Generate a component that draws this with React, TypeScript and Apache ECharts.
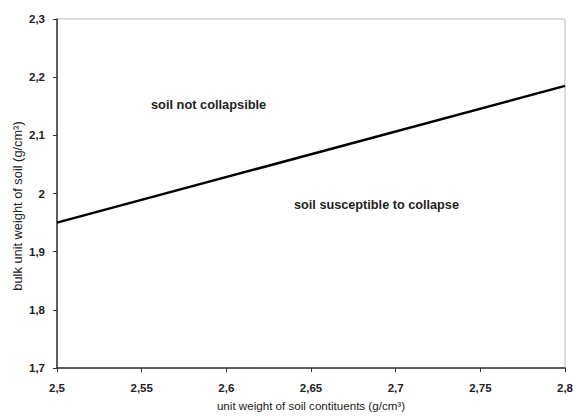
import React, { useEffect, useRef } from "react";
import * as echarts from "echarts";

const xValues = [2.5, 2.8];
const yValues = [1.95, 2.185];
const xMin = 2.5, xMax = 2.8, xStep = 0.05;
const yMin = 1.7, yMax = 2.3, yStep = 0.1;
const xTitle = "unit weight of soil contituents (g/cm³)";
const yTitle = "bulk unit weight of soil (g/cm³)";
const notes = ["soil not collapsible", "soil susceptible to collapse"];

const fmt = (v: number) => {
  const s = parseFloat(v.toFixed(2)).toString();
  return s.replace(".", ",");
};

const FONT = "Arial, Liberation Sans";

export default function App() {
  const ref = useRef<HTMLDivElement>(null);
  useEffect(() => {
    const chart = echarts.init(ref.current!, null, { renderer: "svg" });
    chart.setOption({
      animation: false,
      backgroundColor: "#fff",
      grid: { left: 57, right: 10, top: 19, bottom: 44, show: true, borderColor: "#bbbbbb", borderWidth: 1 },
      xAxis: {
        type: "value", min: xMin, max: xMax, interval: xStep,
        axisLine: { show: true, onZero: false, lineStyle: { color: "#333", width: 1.5 } },
        axisTick: { show: true, length: 4, lineStyle: { color: "#333" } },
        axisLabel: { formatter: fmt, color: "#222", fontFamily: FONT, fontWeight: "bold", fontSize: 11.5, margin: 14 },
        splitLine: { show: false },
        name: xTitle, nameLocation: "middle", nameGap: 30,
        nameTextStyle: { color: "#222", fontFamily: FONT, fontSize: 11.6 },
      },
      yAxis: {
        type: "value", min: yMin, max: yMax, interval: yStep,
        axisLine: { show: true, onZero: false, lineStyle: { color: "#333", width: 1.5 } },
        axisTick: { show: true, length: 4, lineStyle: { color: "#333" } },
        axisLabel: { formatter: fmt, color: "#222", fontFamily: FONT, fontWeight: "bold", fontSize: 11.5, margin: 12 },
        splitLine: { show: false },
      },
      series: [
        {
          type: "line",
          data: xValues.map((x, i) => [x, yValues[i]]),
          showSymbol: false,
          lineStyle: { color: "#000", width: 2.5 },
        },
      ],
      graphic: [
        { type: "text", x: 17, y: 206, rotation: Math.PI / 2, style: { text: yTitle, fill: "#222", font: `12.8px ${FONT}`, align: "center", verticalAlign: "middle" } },
        { type: "text", x: 151, y: 104, style: { text: notes[0], fill: "#222", font: `bold 12.8px ${FONT}`, verticalAlign: "middle" } },
        { type: "text", x: 294, y: 205, style: { text: notes[1], fill: "#222", font: `bold 12.7px ${FONT}`, verticalAlign: "middle" } },
      ],
    });
    return () => chart.dispose();
  }, []);
  return <div ref={ref} style={{ width: 576, height: 416, position: "fixed", left: 0, top: 0 }} />;
}
